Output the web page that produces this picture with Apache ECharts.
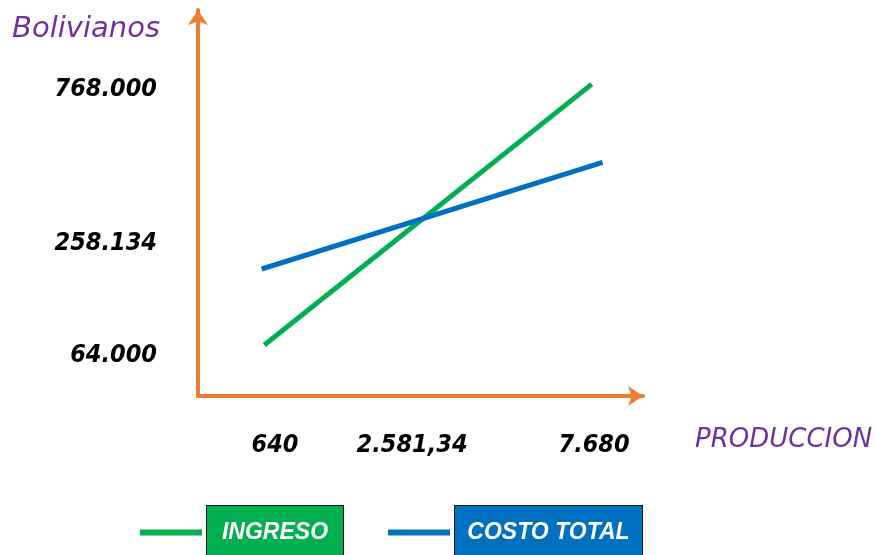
<!DOCTYPE html>
<html>
<head>
<meta charset="utf-8">
<script src="https://cdn.jsdelivr.net/npm/echarts@6/dist/echarts.min.js"></script>
<style>html,body{margin:0;padding:0;background:#fff}#c{width:877px;height:555px}</style>
</head>
<body>
<div id="c"></div>
<script>
// Schematic chart (not to scale): positions are in schematic axis units 0..100
const xTickValues = [17.3, 48.1, 89.0];
const xTickLabels = ['640', '2.581,34', '7.680'];
const yTickValues = [10.4, 39.4, 79.3];
const yTickLabels = ['64.000', '258.134', '768.000'];
const ingresoData = [[14.9, 13.2], [88.5, 80.8]];
const costoData = [[14.3, 32.9], [90.9, 60.5]];
const seriesNames = ['INGRESO', 'COSTO TOTAL'];

const ORANGE = '#ED7D31', GREEN = '#00B050', BLUE = '#0070C0', PURPLE = '#7030A0';
const tickFont = { fontFamily: '"DejaVu Sans Condensed", "DejaVu Sans"', fontStyle: 'italic', fontWeight: 'bold', fontSize: 25, color: '#000' };
const legFont = { fontFamily: '"Liberation Sans", Arial', fontStyle: 'italic', fontWeight: 'bold', fontSize: 23, color: '#fff', lineHeight: 30, padding: [15, 11], borderColor: '#1a1a1a', borderWidth: 1, align: 'center' };

const chart = echarts.init(document.getElementById('c'), null, { renderer: 'canvas' });
chart.setOption({
  animation: false,
  backgroundColor: '#fff',
  grid: { left: 198, right: 234, top: 10, bottom: 159, containLabel: false },
  xAxis: {
    type: 'value', min: 0, max: 100,
    name: 'PRODUCCION', nameLocation: 'end', nameGap: 52,
    nameTextStyle: { fontFamily: 'DejaVu Sans', fontStyle: 'italic', fontSize: 26, color: PURPLE, align: 'left', verticalAlign: 'top', padding: [31, 0, 0, 0] },
    axisLine: { show: true, symbol: ['none', 'arrow'], symbolSize: [15, 15], lineStyle: { color: ORANGE, width: 4 } },
    axisTick: { show: false },
    splitLine: { show: false },
    axisLabel: Object.assign({
      customValues: xTickValues, margin: 37,
      formatter: v => { const i = xTickValues.indexOf(v); return i >= 0 ? xTickLabels[i] : ''; }
    }, tickFont)
  },
  yAxis: {
    type: 'value', min: 0, max: 100,
    name: 'Bolivianos', nameLocation: 'end', nameGap: -19,
    nameTextStyle: { fontFamily: 'DejaVu Sans', fontStyle: 'italic', fontSize: 29, color: PURPLE, align: 'right', verticalAlign: 'middle', padding: [0, 38, 0, 0] },
    axisLine: { show: true, symbol: ['none', 'arrow'], symbolSize: [15, 15], lineStyle: { color: ORANGE, width: 4 } },
    axisTick: { show: false },
    splitLine: { show: false },
    axisLabel: Object.assign({
      customValues: yTickValues, margin: 41,
      formatter: v => { const i = yTickValues.indexOf(v); return i >= 0 ? yTickLabels[i] : ''; }
    }, tickFont)
  },
  legend: {
    left: 140, top: 505, padding: 0, itemGap: 44,
    icon: 'rect', itemWidth: 62, itemHeight: 6,
    data: seriesNames,
    formatter: n => n === seriesNames[0] ? '{g|' + n + '}' : '{b|' + n + '}',
    textStyle: {
      rich: {
        g: Object.assign({ backgroundColor: GREEN, width: 114 }, legFont),
        b: Object.assign({ backgroundColor: BLUE, width: 165 }, legFont)
      }
    }
  },
  series: [
    { name: seriesNames[0], type: 'line', data: ingresoData, symbol: 'none', lineStyle: { color: GREEN, width: 5 }, itemStyle: { color: GREEN } },
    { name: seriesNames[1], type: 'line', data: costoData, symbol: 'none', lineStyle: { color: BLUE, width: 5 }, itemStyle: { color: BLUE } }
  ]
});
</script>
</body>
</html>
